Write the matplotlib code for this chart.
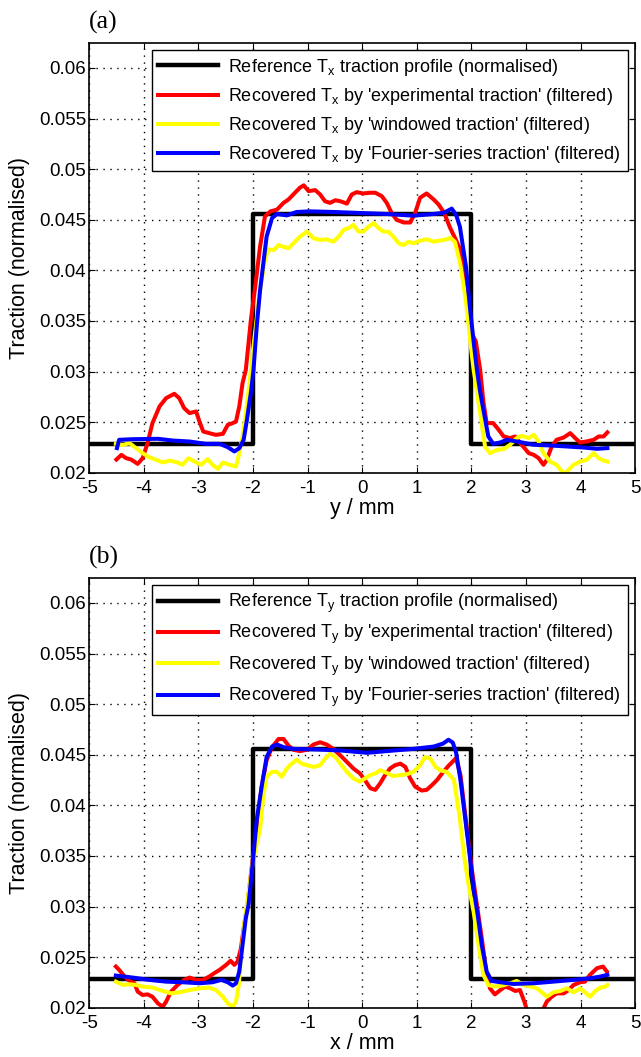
import matplotlib
matplotlib.use("Agg")
import matplotlib.pyplot as plt

plt.rcParams["font.family"] = ["Liberation Sans", "DejaVu Sans"]
plt.rcParams["mathtext.default"] = "regular"

# Reference step profile (same for both panels)
ref_x = [-5.0, -2.0, -2.0, 2.0, 2.0, 5.0]
ref_y = [0.0228, 0.0228, 0.0456, 0.0456, 0.0228, 0.0228]

# Panel (a): T_x profiles along y
a_red_x = [-4.50, -4.41, -4.32, -4.23, -4.11, -4.02, -3.93, -3.84, -3.71, -3.59, -3.44, -3.35,
           -3.26, -3.16, -3.04, -2.98, -2.91, -2.80, -2.68, -2.55, -2.46, -2.37, -2.31, -2.25,
           -2.19, -2.13, -2.04, -1.96, -1.87, -1.78, -1.68, -1.56, -1.44, -1.35, -1.23, -1.14,
           -1.07, -0.98, -0.86, -0.77, -0.68, -0.59, -0.49, -0.40, -0.28, -0.19, -0.10, 0.02,
           0.15, 0.24, 0.36, 0.45, 0.54, 0.63, 0.76, 0.88, 0.97, 1.06, 1.18, 1.31, 1.40, 1.50,
           1.61, 1.70, 1.80, 1.90, 1.98, 2.08, 2.16, 2.22, 2.28, 2.40, 2.50, 2.59, 2.71, 2.80,
           2.92, 3.05, 3.14, 3.23, 3.32, 3.38, 3.47, 3.56, 3.69, 3.81, 3.90, 3.99, 4.11, 4.24,
           4.33, 4.42, 4.49]
a_red_y = [0.0213, 0.02176, 0.02143, 0.0213, 0.02087, 0.02143, 0.02292, 0.0249, 0.02655, 0.02737,
           0.0278, 0.02737, 0.02638, 0.02589, 0.02605, 0.02506, 0.02407, 0.02391, 0.02374, 0.02384,
           0.02473, 0.0249, 0.02506, 0.02655, 0.02886, 0.03017, 0.0350, 0.03833, 0.04233, 0.04533,
           0.04583, 0.0460, 0.04667, 0.0470, 0.04767, 0.04817, 0.0484, 0.04783, 0.04793, 0.0475,
           0.04683, 0.04667, 0.04693, 0.04683, 0.0466, 0.0475, 0.04773, 0.0476, 0.04767, 0.04767,
           0.04733, 0.04667, 0.04567, 0.0450, 0.04473, 0.04473, 0.04567, 0.04717, 0.0476, 0.0470,
           0.0465, 0.0457, 0.0442, 0.0432, 0.0420, 0.0385, 0.0340, 0.0330, 0.0302, 0.0270, 0.0249,
           0.0249, 0.02424, 0.02358, 0.02342, 0.02358, 0.02276, 0.02193, 0.02177, 0.02144, 0.02078,
           0.02127, 0.02259, 0.02325, 0.02348, 0.02391, 0.02342, 0.02299, 0.02309, 0.02325, 0.02358,
           0.02358, 0.02398]

a_yel_x = [-4.51, -4.38, -4.26, -4.14, -4.02, -3.90, -3.77, -3.65, -3.53, -3.38, -3.29, -3.18,
           -3.07, -2.95, -2.83, -2.74, -2.64, -2.55, -2.43, -2.31, -2.25, -2.19, -2.13, -2.07,
           -1.98, -1.87, -1.78, -1.72, -1.62, -1.53, -1.44, -1.35, -1.26, -1.14, -1.01, -0.89,
           -0.77, -0.65, -0.53, -0.43, -0.34, -0.25, -0.16, -0.07, 0.02, 0.12, 0.21, 0.30, 0.39,
           0.48, 0.57, 0.67, 0.76, 0.85, 0.94, 1.06, 1.18, 1.31, 1.40, 1.50, 1.62, 1.70, 1.80,
           1.90, 2.00, 2.04, 2.16, 2.25, 2.34, 2.47, 2.59, 2.71, 2.83, 2.92, 3.05, 3.14, 3.23,
           3.32, 3.44, 3.56, 3.69, 3.78, 3.87, 3.99, 4.11, 4.24, 4.33, 4.42, 4.49]
a_yel_y = [0.02285, 0.02275, 0.02292, 0.02243, 0.02193, 0.02153, 0.02127, 0.02101, 0.0212, 0.02101,
           0.02078, 0.02143, 0.0211, 0.02078, 0.02134, 0.02078, 0.02038, 0.02101, 0.02078, 0.02061,
           0.02193, 0.02358, 0.02589, 0.02853, 0.0330, 0.0380, 0.0410, 0.04207, 0.0420, 0.0425,
           0.04233, 0.04217, 0.04267, 0.04333, 0.04383, 0.04317, 0.0430, 0.04307, 0.04283, 0.04333,
           0.0440, 0.04417, 0.0445, 0.04383, 0.04383, 0.04433, 0.04467, 0.04417, 0.04383, 0.04383,
           0.04333, 0.04267, 0.0425, 0.04283, 0.04267, 0.04293, 0.04307, 0.04283, 0.04293, 0.0430,
           0.0432, 0.0428, 0.0405, 0.0370, 0.0320, 0.0302, 0.02589, 0.02259, 0.02193, 0.02226,
           0.02233, 0.02276, 0.02342, 0.02365, 0.02342, 0.02375, 0.02309, 0.02193, 0.0211, 0.02078,
           0.0199, 0.02028, 0.02078, 0.0211, 0.02127, 0.02193, 0.02144, 0.0212, 0.0211]

a_blu_x = [-4.49, -4.45, -4.20, -3.74, -3.47, -3.16, -2.86, -2.61, -2.46, -2.34, -2.25, -2.17,
           -2.11, -2.03, -1.99, -1.93, -1.87, -1.81, -1.75, -1.65, -1.56, -1.38, -1.20, -0.95,
           -0.53, -0.04, 0.45, 0.94, 1.31, 1.50, 1.64, 1.72, 1.79, 1.90, 1.98, 2.04, 2.10, 2.16,
           2.22, 2.31, 2.40, 2.53, 2.65, 2.83, 3.14, 3.44, 3.75, 4.05, 4.30, 4.49]
a_blu_y = [0.02243, 0.02325, 0.02331, 0.02335, 0.02318, 0.02308, 0.02285, 0.02285, 0.02252, 0.0221,
           0.02242, 0.02325, 0.02523, 0.0282, 0.03018, 0.0345, 0.0380, 0.04067, 0.04333, 0.04517,
           0.04557, 0.04543, 0.04577, 0.04583, 0.04577, 0.04567, 0.04557, 0.0454, 0.04557, 0.0457,
           0.0461, 0.0455, 0.0443, 0.0404, 0.0360, 0.0330, 0.0302, 0.0280, 0.02622, 0.02358,
           0.02285, 0.02299, 0.02325, 0.02309, 0.02276, 0.02269, 0.02259, 0.02249, 0.02236, 0.02243]

# Panel (b): T_y profiles along x
b_red_x = [-4.51, -4.45, -4.35, -4.26, -4.17, -4.11, -4.02, -3.93, -3.84, -3.74, -3.65, -3.59,
           -3.50, -3.38, -3.26, -3.16, -3.04, -2.92, -2.80, -2.71, -2.61, -2.49, -2.41, -2.34,
           -2.28, -2.22, -2.16, -2.10, -2.02, -1.93, -1.84, -1.75, -1.65, -1.53, -1.44, -1.35,
           -1.26, -1.14, -1.01, -0.89, -0.77, -0.65, -0.53, -0.40, -0.28, -0.16, -0.04, 0.05,
           0.15, 0.24, 0.33, 0.42, 0.51, 0.60, 0.70, 0.79, 0.88, 0.97, 1.09, 1.18, 1.28, 1.37,
           1.47, 1.57, 1.72, 1.80, 1.90, 2.00, 2.10, 2.19, 2.27, 2.34, 2.43, 2.53, 2.62, 2.71,
           2.80, 2.89, 2.97, 3.05, 3.18, 3.28, 3.32, 3.38, 3.47, 3.56, 3.69, 3.78, 3.87, 3.99,
           4.08, 4.17, 4.30, 4.41, 4.48]
b_red_y = [0.02407, 0.02374, 0.02308, 0.02265, 0.02242, 0.02159, 0.02126, 0.02132, 0.02109, 0.02043,
           0.0201, 0.0206, 0.02159, 0.02225, 0.02275, 0.02298, 0.02275, 0.02275, 0.02308, 0.02341,
           0.02374, 0.02424, 0.02464, 0.02424, 0.02457, 0.02589, 0.02821, 0.0302, 0.0340, 0.03763,
           0.04185, 0.04445, 0.04575, 0.04656, 0.04656, 0.04591, 0.04549, 0.04536, 0.04549, 0.04601,
           0.04623, 0.04601, 0.04558, 0.04494, 0.04429, 0.04364, 0.04315, 0.0425, 0.04169, 0.04153,
           0.04218, 0.04299, 0.04364, 0.04396, 0.04412, 0.0438, 0.04266, 0.04185, 0.04146, 0.04153,
           0.04201, 0.0425, 0.0432, 0.04384, 0.04467, 0.0430, 0.0385, 0.0340, 0.0302, 0.02689,
           0.02358, 0.02192, 0.02132, 0.02175, 0.02209, 0.02192, 0.02166, 0.02175, 0.0206, 0.0192,
           0.0185, 0.0192, 0.01993, 0.0206, 0.02109, 0.02142, 0.02142, 0.02175, 0.02225, 0.02252,
           0.02258, 0.02324, 0.02391, 0.02407, 0.02358]

b_yel_x = [-4.51, -4.38, -4.26, -4.14, -4.02, -3.84, -3.65, -3.50, -3.35, -3.16, -2.98, -2.80,
           -2.68, -2.55, -2.46, -2.37, -2.31, -2.26, -2.22, -2.16, -2.11, -2.00, -1.87, -1.81,
           -1.75, -1.65, -1.56, -1.47, -1.38, -1.29, -1.20, -1.11, -1.01, -0.89, -0.77, -0.68,
           -0.59, -0.49, -0.40, -0.28, -0.16, -0.04, 0.05, 0.15, 0.24, 0.33, 0.45, 0.57, 0.70,
           0.82, 0.94, 1.06, 1.15, 1.25, 1.34, 1.43, 1.55, 1.68, 1.78, 1.88, 1.97, 2.04, 2.13,
           2.22, 2.31, 2.43, 2.56, 2.71, 2.83, 2.95, 3.08, 3.20, 3.29, 3.38, 3.50, 3.63, 3.75,
           3.87, 3.99, 4.08, 4.17, 4.27, 4.36, 4.45, 4.49]
b_yel_y = [0.02258, 0.02225, 0.02232, 0.02225, 0.02209, 0.02199, 0.02166, 0.02142, 0.02152, 0.02175,
           0.02192, 0.02199, 0.02175, 0.02109, 0.02043, 0.0201, 0.0206, 0.02225, 0.0249, 0.02821,
           0.0302, 0.0345, 0.03763, 0.04088, 0.04282, 0.04331, 0.04331, 0.04282, 0.04364, 0.04412,
           0.04451, 0.04412, 0.04396, 0.0438, 0.04396, 0.04461, 0.0451, 0.04477, 0.04412, 0.04331,
           0.04266, 0.04234, 0.04266, 0.04299, 0.04315, 0.04347, 0.04321, 0.04289, 0.04299, 0.04308,
           0.04331, 0.04396, 0.04477, 0.04461, 0.0438, 0.04347, 0.0433, 0.04252, 0.0390, 0.0345,
           0.0315, 0.0295, 0.02623, 0.02325, 0.02225, 0.02209, 0.02219, 0.02242, 0.02265, 0.02225,
           0.02209, 0.02192, 0.02152, 0.02109, 0.02152, 0.02166, 0.02192, 0.02152, 0.02192, 0.02152,
           0.02109, 0.02166, 0.02199, 0.02209, 0.02225]

b_blu_x = [-4.51, -4.20, -3.90, -3.59, -3.29, -2.98, -2.74, -2.58, -2.46, -2.37, -2.31, -2.25,
           -2.19, -2.13, -2.08, -2.00, -1.93, -1.84, -1.75, -1.65, -1.56, -1.44, -1.26, -0.83,
           -0.40, 0.09, 0.45, 0.94, 1.31, 1.48, 1.58, 1.66, 1.72, 1.80, 1.88, 1.96, 2.04, 2.12,
           2.19, 2.28, 2.37, 2.53, 2.77, 3.14, 3.50, 3.87, 4.17, 4.36, 4.49]
b_blu_y = [0.02318, 0.02298, 0.02275, 0.02258, 0.02252, 0.02242, 0.02252, 0.02275, 0.02252, 0.02219,
           0.02242, 0.02358, 0.02623, 0.02887, 0.0302, 0.0345, 0.0386, 0.04185, 0.04477, 0.04581,
           0.04601, 0.04575, 0.04558, 0.04552, 0.04542, 0.04519, 0.04536, 0.04558, 0.04581, 0.0461,
           0.04648, 0.0462, 0.0452, 0.0425, 0.0390, 0.0355, 0.0318, 0.0290, 0.0262, 0.02358,
           0.02265, 0.02252, 0.02235, 0.02242, 0.02258, 0.02275, 0.02291, 0.02308, 0.02325]

x_ticks = [-5, -4, -3, -2, -1, 0, 1, 2, 3, 4, 5]
y_ticks = [0.02, 0.025, 0.03, 0.035, 0.04, 0.045, 0.05, 0.055, 0.06]
y_tick_labels = ["0.02", "0.025", "0.03", "0.035", "0.04", "0.045", "0.05", "0.055", "0.06"]


def draw_panel(ax, comp, curves, xlabel, tag):
    red, yel, blu = curves
    ax.plot(ref_x, ref_y, color="k", lw=3.2,
            label="Reference T$_%s$ traction profile (normalised)" % comp)
    ax.plot(red[0], red[1], color=(1, 0, 0), lw=2.9,
            label="Recovered T$_%s$ by 'experimental traction' (filtered)" % comp)
    ax.plot(yel[0], yel[1], color=(1, 1, 0), lw=2.9,
            label="Recovered T$_%s$ by 'windowed traction' (filtered)" % comp)
    ax.plot(blu[0], blu[1], color=(0, 0, 1), lw=2.9,
            label="Recovered T$_%s$ by 'Fourier-series traction' (filtered)" % comp)

    ax.set_xlim(-5, 5)
    ax.set_ylim(0.02, 0.0625)
    ax.set_xticks(x_ticks)
    ax.set_xticklabels([str(t) for t in x_ticks])
    ax.set_yticks(y_ticks)
    ax.set_yticklabels(y_tick_labels)
    ax.tick_params(direction="in", top=True, right=True, length=4, width=0.8,
                   labelsize=13.5)
    ax.tick_params(axis="y", pad=2)
    ax.tick_params(axis="x", pad=5)
    ax.grid(True, linestyle=(0, (1, 4)), color="k", lw=1.0)
    for s in ax.spines.values():
        s.set_linewidth(1.2)

    ax.set_xlabel(xlabel, fontsize=15.5)
    ax.set_ylabel("Traction (normalised)", fontsize=15.5)
    ax.xaxis.set_label_coords(0.5, -0.058, transform=ax.transAxes)
    ax.xaxis.label.set_va("top")
    ax.yaxis.set_label_coords(-0.108, 0.5)

    leg = ax.legend(loc="upper right", bbox_to_anchor=(0.986, 0.982), fontsize=13,
                    frameon=True, fancybox=False, framealpha=1, edgecolor="k",
                    handlelength=3.3, handletextpad=0.6, labelspacing=0.45,
                    borderpad=0.35, borderaxespad=0)
    leg.get_frame().set_linewidth(1.0)
    leg.set_zorder(5)

    ax.text(0.0, 1.02, tag, transform=ax.transAxes, fontsize=18.5,
            family=["Liberation Serif", "DejaVu Serif"], ha="left", va="bottom")


fig = plt.figure(figsize=(6.41, 10.57), dpi=100)
ax_a = fig.add_axes([0.139, 0.5528, 0.852, 0.4068])
ax_b = fig.add_axes([0.139, 0.0466, 0.852, 0.4069])

draw_panel(ax_a, "x", [(a_red_x, a_red_y), (a_yel_x, a_yel_y), (a_blu_x, a_blu_y)],
           "y / mm", "(a)")
draw_panel(ax_b, "y", [(b_red_x, b_red_y), (b_yel_x, b_yel_y), (b_blu_x, b_blu_y)],
           "x / mm", "(b)")

fig.savefig("out.png", dpi=100)
